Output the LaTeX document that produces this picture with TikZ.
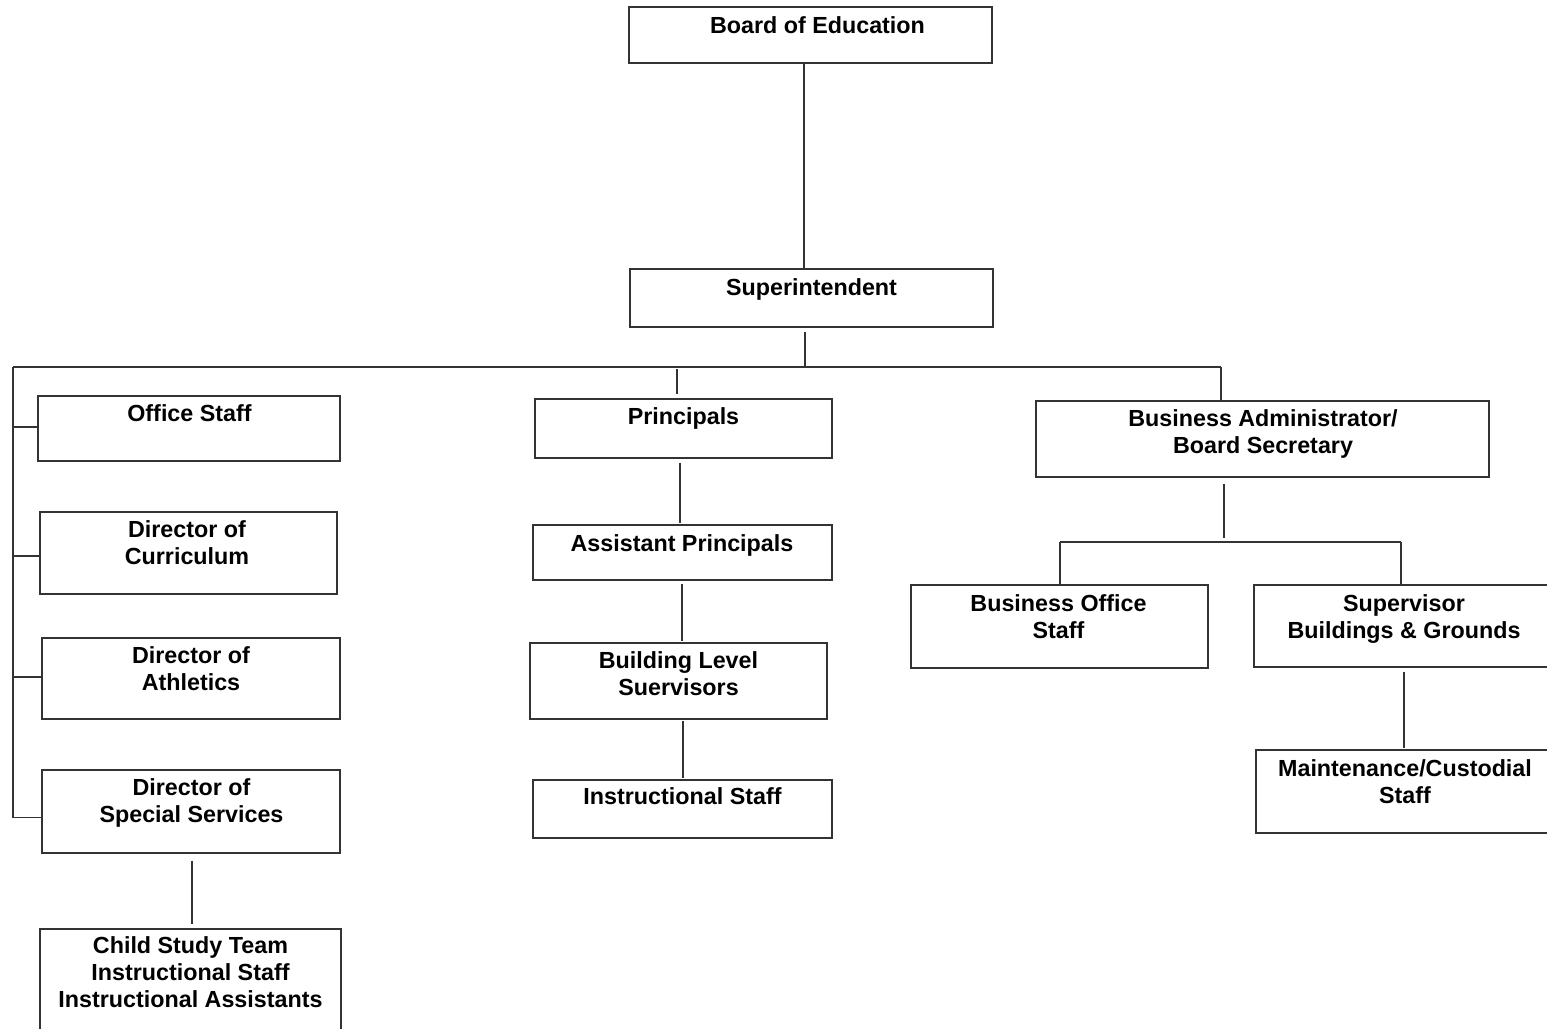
\documentclass[tikz,border=0pt]{standalone}
\usepackage{fontspec}
\setmainfont{Liberation Sans}
\usetikzlibrary{fit,calc}
\tikzset{
  orgrect/.style={draw=black!80, line width=1.3pt, inner sep=0pt},
  lbl/.style={anchor=north, inner sep=0pt, align=center,
              font=\bfseries\fontsize{23.3}{27}\selectfont},
  conn/.style={draw=black!80, line width=1.3pt}
}
\newcommand{\orgbox}[8]{%
  \node[orgrect, fit={(#2,#3) (#4,#5)}] (#1) {};
  \node[lbl] (#1-t) at ($(#1.north)+(#6,#7)$) {#8};
}
\begin{document}
\begin{tikzpicture}[x=1pt,y=-1pt]
\useasboundingbox (0,0) rectangle (1547,1028);
\fill[white] (0,0) rectangle (1547,1028);
\clip (0,0) rectangle (1547,1028);

% boxes
\orgbox{board}{629}{7}{992}{63}{7}{10}{Board of Education}
\orgbox{sup}{630}{269}{993}{327}{0}{10.5}{Superintendent}
\orgbox{office}{38}{396}{340}{461}{0.5}{9}{Office Staff}
\orgbox{curr}{40}{512}{337}{594}{-1.5}{9}{Director of\\Curriculum}
\orgbox{ath}{42}{638}{340}{719}{0}{9.5}{Director of\\Athletics}
\orgbox{spec}{42}{770}{340}{853}{0.5}{9.5}{Director of\\Special Services}
\orgbox{cst}{40}{929}{341}{1045}{0}{8.5}{Child Study Team\\Instructional Staff\\Instructional Assistants}
\orgbox{prin}{535}{399}{832}{458}{0}{9}{Principals}
\orgbox{asst}{533}{525}{832}{580}{-0.5}{10}{Assistant Principals}
\orgbox{bls}{530}{643}{827}{719}{0}{9}{Building Level\\Suervisors}
\orgbox{instr}{533}{780}{832}{838}{0}{8.5}{Instructional Staff}
\orgbox{bus}{1036}{401}{1489}{477}{0.5}{9}{Business Administrator/\\Board Secretary}
\orgbox{boff}{911}{585}{1208}{668}{-1}{10}{Business Office\\Staff}
\orgbox{supv}{1254}{585}{1554}{667}{0}{10}{Supervisor\\Buildings \& Grounds}
\orgbox{maint}{1256}{750}{1554}{833}{0}{10}{Maintenance/Custodial\\Staff}

% trunk coordinates
\coordinate (hub) at (805,367);
\coordinate (trunkL) at (13,367);
\coordinate (trunkR) at (1221,367);
\coordinate (trunkEnd) at (13,817.5);
\coordinate (bbL) at (1060,542);
\coordinate (bbR) at (1401,542);

% connectors
\draw[conn] ($(board.south)+(-6.5,0)$) -- ($(sup.north)+(-7.5,0)$);
\draw[conn] ($(sup.south)+(-6.5,4)$) -- (hub);
\draw[conn] (trunkL) -- (trunkR);
\draw[conn] (trunkL) -- (trunkEnd);
\draw[conn] ($(office.west)+(0,-1.5)$) -- ($(office.west)+(-25,-1.5)$);
\draw[conn] ($(curr.west)+(0,3)$) -- ($(curr.west)+(-27,3)$);
\draw[conn] ($(ath.west)+(0,-1.5)$) -- ($(ath.west)+(-29,-1.5)$);
\draw[conn] (trunkEnd) -- (trunkEnd -| spec.west);
\draw[conn] ($(spec.south)+(1,7)$) -- ($(cst.north)+(1.5,-4)$);

\draw[conn] ($(prin.north)+(-6.5,-29)$) -- ($(prin.north)+(-6.5,-4)$);
\draw[conn] ($(prin.south)+(-3.5,4)$) -- ($(asst.north)+(-2.5,-1)$);
\draw[conn] ($(asst.south)+(-0.5,3)$) -- ($(bls.north)+(3.5,-1)$);
\draw[conn] ($(bls.south)+(4.5,1)$) -- ($(instr.north)+(0.5,-1)$);

\draw[conn] (trunkR) -- (trunkR |- bus.north);
\draw[conn] ($(bus.south)+(-38.5,6)$) -- ($(bus.south)+(-38.5,60)$);
\draw[conn] (bbL) -- (bbR);
\draw[conn] (bbL) -- (bbL |- boff.north);
\draw[conn] (bbR) -- (bbR |- supv.north);
\draw[conn] ($(supv.south)+(0,4)$) -- ($(maint.north)+(-1,-1)$);
\end{tikzpicture}
\end{document}
